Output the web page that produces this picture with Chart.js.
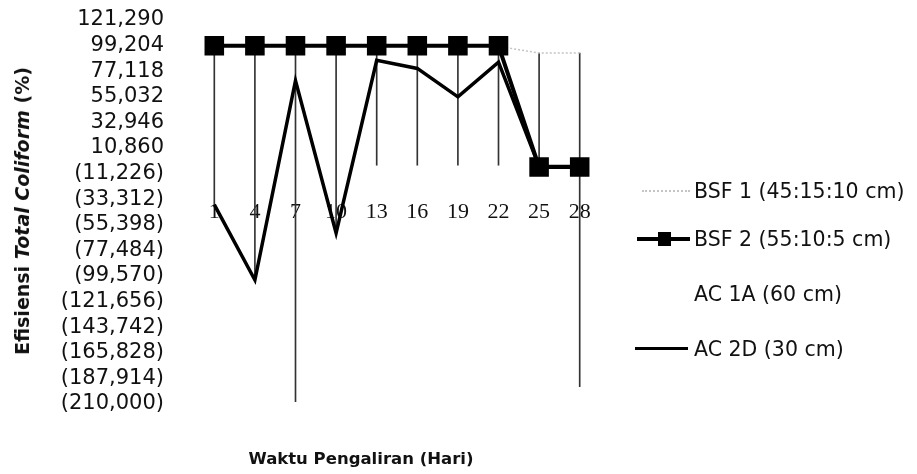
<!DOCTYPE html>
<html>
<head>
<meta charset="utf-8">
<script src="https://cdn.jsdelivr.net/npm/chart.js@4/dist/chart.umd.min.js"></script>
<style>
  body { margin: 0; background: #fff; }
  #wrap { position: relative; width: 917px; height: 474px; }
  #ytitle {
    position: absolute; left: 22px; top: 211px;
    transform: translate(-50%, -50%) rotate(-90deg);
    font: bold 19px "DejaVu Sans", sans-serif; color: #111; white-space: nowrap;
  }
  #xtitle {
    position: absolute; left: 361px; top: 458px;
    transform: translate(-50%, -50%);
    font: bold 16.5px "DejaVu Sans", sans-serif; color: #111; white-space: nowrap;
  }
  .row {
    position: absolute; left: 634px; height: 24px;
    font: 20.5px "DejaVu Sans", sans-serif; color: #111; white-space: nowrap;
    display: flex; align-items: center;
  }
  .sym { position: relative; width: 58px; height: 24px; margin-right: 2px; }
</style>
</head>
<body>
<div id="wrap">
  <canvas id="chart"></canvas>
  <div id="ytitle">Efisiensi <i>Total Coliform</i> (%)</div>
  <div id="xtitle">Waktu Pengaliran (Hari)</div>
  <div id="legend"></div>
</div>
<script>
const days = ['1', '4', '7', '10', '13', '16', '19', '22', '25', '28'];
const seriesNames = ['BSF 1 (45:15:10 cm)', 'BSF 2 (55:10:5 cm)', 'AC 1A (60 cm)', 'AC 2D (30 cm)'];

const bsf1 = [98.5, 98.5, 98.5, 98.5, 98.5, 98.5, 98.5, 98.5, 92.8, 92.8];
const bsf2 = [99, 99, 99, 99, 99, 99, 99, 99, -5.5, -5.5];
const ac1a = [-4, -4, -208, -4, -4, -4, -4, -4, -4, -195];
const ac2d = [-38, -103, 69, -62.5, 86.5, 79.5, 55, 85, -5, -5];

const yTickValues = [121.29, 99.204, 77.118, 55.032, 32.946, 10.86, -11.226, -33.312,
  -55.398, -77.484, -99.57, -121.656, -143.742, -165.828, -187.914, -210];
const yTickLabels = ['121,290', '99,204', '77,118', '55,032', '32,946', '10,860', '(11,226)', '(33,312)',
  '(55,398)', '(77,484)', '(99,570)', '(121,656)', '(143,742)', '(165,828)', '(187,914)', '(210,000)'];

// high-low lines: from lowest to highest value of all series at each day
const hiLo = days.map((d, i) => {
  const v = [bsf1[i], bsf2[i], ac1a[i], ac2d[i]];
  return [Math.min(...v), Math.max(...v)];
});

const ctx = document.getElementById('chart');
new Chart(ctx, {
  data: {
    labels: days,
    datasets: [
      {
        type: 'bar', label: 'hilo', data: hiLo, order: 10,
        backgroundColor: '#333', barThickness: 1
      },
      {
        type: 'line', label: seriesNames[0], data: bsf1, order: 3,
        borderColor: '#c4c4c4', borderWidth: 1.5, borderDash: [2, 2],
        pointRadius: 0, fill: false
      },
      {
        type: 'line', label: seriesNames[1], data: bsf2, order: 1,
        borderColor: '#000', borderWidth: 4,
        pointStyle: 'rect', pointRadius: 11,
        pointBackgroundColor: '#000', pointBorderColor: '#000', fill: false
      },
      {
        type: 'line', label: seriesNames[2], data: ac1a, order: 4,
        showLine: false, pointRadius: 0
      },
      {
        type: 'line', label: seriesNames[3], data: ac2d, order: 2,
        borderColor: '#000', borderWidth: 3.5,
        pointRadius: 0, fill: false
      }
    ]
  },
  options: {
    responsive: true,
    maintainAspectRatio: false,
    animation: false,
    layout: { autoPadding: false, padding: { left: 0, top: 20, right: 317, bottom: 70 } },
    plugins: { legend: { display: false }, tooltip: { enabled: false } },
    scales: {
      x: {
        type: 'category',
        position: { y: -24 },
        afterFit: s => { s.height = 0; },
        grid: { display: false },
        border: { display: false },
        ticks: {
          font: { family: 'Liberation Serif', size: 22 },
          color: '#111', padding: 3, maxRotation: 0, autoSkip: false
        }
      },
      y: {
        type: 'linear',
        min: -210, max: 121.29,
        grid: { display: false, tickLength: 30 },
        border: { display: false },
        afterFit: s => { s.width = 194; },
        afterBuildTicks: s => { s.ticks = yTickValues.slice().reverse().map(v => ({ value: v })); },
        ticks: {
          autoSkip: false,
          padding: 0,
          font: { family: 'DejaVu Sans', size: 21 },
          color: '#111',
          callback: value => {
            const i = yTickValues.findIndex(t => Math.abs(t - value) < 1e-6);
            return yTickLabels[i];
          }
        }
      }
    }
  }
});

// legend on the right
const legendTops = [191, 239, 294, 349];
const legend = document.getElementById('legend');
seriesNames.forEach((name, i) => {
  const row = document.createElement('div');
  row.className = 'row';
  row.style.top = (legendTops[i] - 12) + 'px';
  const sym = document.createElement('div');
  sym.className = 'sym';
  if (i === 0) {
    sym.innerHTML = '<div style="position:absolute;left:8px;right:2px;top:11px;border-top:2px dotted #c4c4c4"></div>';
  } else if (i === 1) {
    sym.innerHTML = '<div style="position:absolute;left:3px;right:2px;top:10px;height:4px;background:#000"></div>' +
      '<div style="position:absolute;left:24px;top:5px;width:13px;height:14px;background:#000"></div>';
  } else if (i === 3) {
    sym.innerHTML = '<div style="position:absolute;left:1px;right:4px;top:10px;height:3px;background:#000"></div>';
  }
  row.appendChild(sym);
  const txt = document.createElement('span');
  txt.textContent = name;
  row.appendChild(txt);
  legend.appendChild(row);
});
</script>
</body>
</html>
